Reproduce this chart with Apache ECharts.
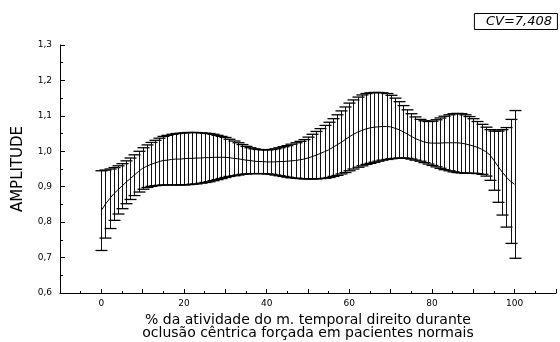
<!DOCTYPE html>
<html>
<head>
<meta charset="utf-8">
<script src="https://cdn.jsdelivr.net/npm/echarts@6/dist/echarts.min.js"></script>
<style>
  html, body { margin: 0; padding: 0; background: #fff; }
  #chart { width: 560px; height: 342px; }
</style>
</head>
<body>
<div id="chart"></div>
<script>
// Percentage of the activity cycle (0..100 %)
const percent = Array.from({ length: 101 }, (_, i) => i);

// Mean amplitude at each percent step
const meanAmp = [
  0.833, 0.851, 0.866, 0.880, 0.891, 0.902, 0.913, 0.923, 0.933, 0.943,
  0.952, 0.958, 0.963, 0.967, 0.971, 0.974, 0.975, 0.977, 0.978, 0.978,
  0.979, 0.980, 0.980, 0.981, 0.981, 0.982, 0.982, 0.983, 0.983, 0.983,
  0.983, 0.982, 0.980, 0.979, 0.977, 0.975, 0.974, 0.972, 0.971, 0.971,
  0.970, 0.970, 0.970, 0.971, 0.971, 0.972, 0.973, 0.974, 0.976, 0.978,
  0.981, 0.985, 0.989, 0.994, 0.999, 1.004, 1.011, 1.018, 1.025, 1.033,
  1.041, 1.048, 1.054, 1.059, 1.063, 1.066, 1.068, 1.069, 1.070, 1.070,
  1.069, 1.065, 1.061, 1.055, 1.049, 1.042, 1.036, 1.031, 1.027, 1.024,
  1.023, 1.023, 1.023, 1.024, 1.024, 1.024, 1.024, 1.023, 1.021, 1.018,
  1.015, 1.011, 1.006, 0.999, 0.990, 0.974, 0.957, 0.941, 0.927, 0.915,
  0.907
];

// Upper end of each error bar
const upperAmp = [
  0.945, 0.947, 0.950, 0.954, 0.959, 0.965, 0.973, 0.981, 0.990, 1.000,
  1.010, 1.018, 1.025, 1.031, 1.037, 1.042, 1.045, 1.048, 1.050, 1.051,
  1.052, 1.053, 1.053, 1.053, 1.052, 1.051, 1.050, 1.048, 1.045, 1.042,
  1.039, 1.034, 1.029, 1.024, 1.019, 1.014, 1.010, 1.007, 1.005, 1.004,
  1.004, 1.005, 1.007, 1.010, 1.013, 1.016, 1.020, 1.024, 1.028, 1.033,
  1.040, 1.048, 1.056, 1.064, 1.073, 1.082, 1.092, 1.103, 1.114, 1.125,
  1.136, 1.145, 1.153, 1.159, 1.163, 1.165, 1.166, 1.166, 1.165, 1.163,
  1.158, 1.150, 1.140, 1.129, 1.117, 1.106, 1.097, 1.090, 1.086, 1.084,
  1.085, 1.089, 1.094, 1.099, 1.103, 1.106, 1.107, 1.106, 1.103, 1.098,
  1.092, 1.084, 1.076, 1.068, 1.061, 1.057, 1.057, 1.061, 1.067, 1.090,
  1.115
];

// Lower end of each error bar
const lowerAmp = [
  0.720, 0.755, 0.782, 0.805, 0.823, 0.838, 0.852, 0.864, 0.875, 0.885,
  0.893, 0.898, 0.901, 0.903, 0.904, 0.905, 0.905, 0.905, 0.905, 0.905,
  0.905, 0.906, 0.907, 0.908, 0.910, 0.912, 0.914, 0.917, 0.920, 0.923,
  0.926, 0.929, 0.931, 0.933, 0.935, 0.936, 0.937, 0.937, 0.937, 0.937,
  0.936, 0.935, 0.933, 0.931, 0.929, 0.927, 0.925, 0.924, 0.923, 0.922,
  0.922, 0.922, 0.922, 0.923, 0.924, 0.926, 0.929, 0.932, 0.936, 0.940,
  0.945, 0.950, 0.955, 0.959, 0.963, 0.966, 0.969, 0.972, 0.975, 0.977,
  0.979, 0.980, 0.981, 0.981, 0.980, 0.978, 0.975, 0.972, 0.968, 0.964,
  0.960, 0.956, 0.952, 0.948, 0.945, 0.942, 0.940, 0.939, 0.938, 0.938,
  0.938, 0.937, 0.935, 0.930, 0.918, 0.890, 0.856, 0.820, 0.786, 0.740,
  0.698
];

const xTickLabels = [0, 20, 40, 60, 80, 100];
const cvText = 'CV=7,408';

const chart = echarts.init(document.getElementById('chart'), null, { renderer: 'canvas' });

const barData = percent.map((p, i) => [p, lowerAmp[i], upperAmp[i]]);
const lineData = percent.map((p, i) => [p, meanAmp[i]]);

const ink = '#000';
const FONT = '"DejaVu Sans", Verdana, sans-serif';

const option = {
  animation: false,
  backgroundColor: '#fff',
  title: {
    text: cvText,
    right: 2,
    top: 13,
    padding: [2, 6, 2, 12],
    borderColor: ink,
    borderWidth: 1,
    textStyle: { fontFamily: FONT, fontSize: 13, fontStyle: 'italic', fontWeight: 'normal', color: ink }
  },
  grid: { left: 60, right: 4, top: 45, bottom: 49, containLabel: false, outerBoundsMode: 'none' },
  xAxis: {
    type: 'value',
    min: -10,
    max: 110,
    interval: 10,
    name: '% da atividade do m. temporal direito durante\noclusão cêntrica forçada em pacientes normais',
    nameLocation: 'middle',
    nameGap: 20,
    nameTextStyle: { fontFamily: FONT, fontSize: 14, color: ink, lineHeight: 13, verticalAlign: 'top' },
    axisLine: { onZero: false, lineStyle: { color: ink, width: 1 } },
    axisTick: { inside: true, length: 4, lineStyle: { color: ink } },
    minorTick: { show: true, splitNumber: 2, length: 2, lineStyle: { color: ink } },
    splitLine: { show: false },
    axisLabel: {
      margin: 6,
      fontFamily: FONT,
      fontSize: 9,
      color: ink,
      formatter: v => (xTickLabels.indexOf(v) >= 0 ? String(v) : '')
    }
  },
  yAxis: {
    type: 'value',
    min: 0.6,
    max: 1.3,
    interval: 0.1,
    name: 'AMPLITUDE',
    nameLocation: 'middle',
    nameGap: 34,
    nameRotate: 90,
    nameTextStyle: { fontFamily: FONT, fontSize: 15, color: ink },
    axisLine: { show: true, onZero: false, lineStyle: { color: ink, width: 1 } },
    axisTick: { show: true, inside: true, length: 5, lineStyle: { color: ink } },
    minorTick: { show: true, splitNumber: 2, length: 3, lineStyle: { color: ink } },
    splitLine: { show: false },
    axisLabel: {
      margin: 8,
      fontFamily: FONT,
      fontSize: 9,
      color: ink,
      formatter: v => v.toFixed(1).replace('.', ',')
    }
  },
  series: [
    {
      type: 'custom',
      name: 'dp',
      data: barData,
      encode: { x: 0, y: [1, 2] },
      renderItem: function (params, api) {
        const x = api.value(0);
        const lo = api.coord([x, api.value(1)]);
        const hi = api.coord([x, api.value(2)]);
        const cx = Math.round(lo[0]) + 0.5;
        const half = 6;
        const style = { stroke: '#111', lineWidth: 1, fill: null };
        return {
          type: 'group',
          children: [
            { type: 'line', shape: { x1: cx, y1: hi[1], x2: cx, y2: lo[1] }, style: style },
            { type: 'line', shape: { x1: cx - half, y1: hi[1], x2: cx + half, y2: hi[1] }, style: { stroke: ink, lineWidth: 1.3 } },
            { type: 'line', shape: { x1: cx - half, y1: lo[1], x2: cx + half, y2: lo[1] }, style: { stroke: ink, lineWidth: 1.3 } }
          ]
        };
      },
      z: 2
    },
    {
      type: 'line',
      name: 'média',
      data: lineData,
      showSymbol: false,
      symbol: 'none',
      lineStyle: { color: ink, width: 1 },
      z: 3
    }
  ]
};

chart.setOption(option);
</script>
</body>
</html>
